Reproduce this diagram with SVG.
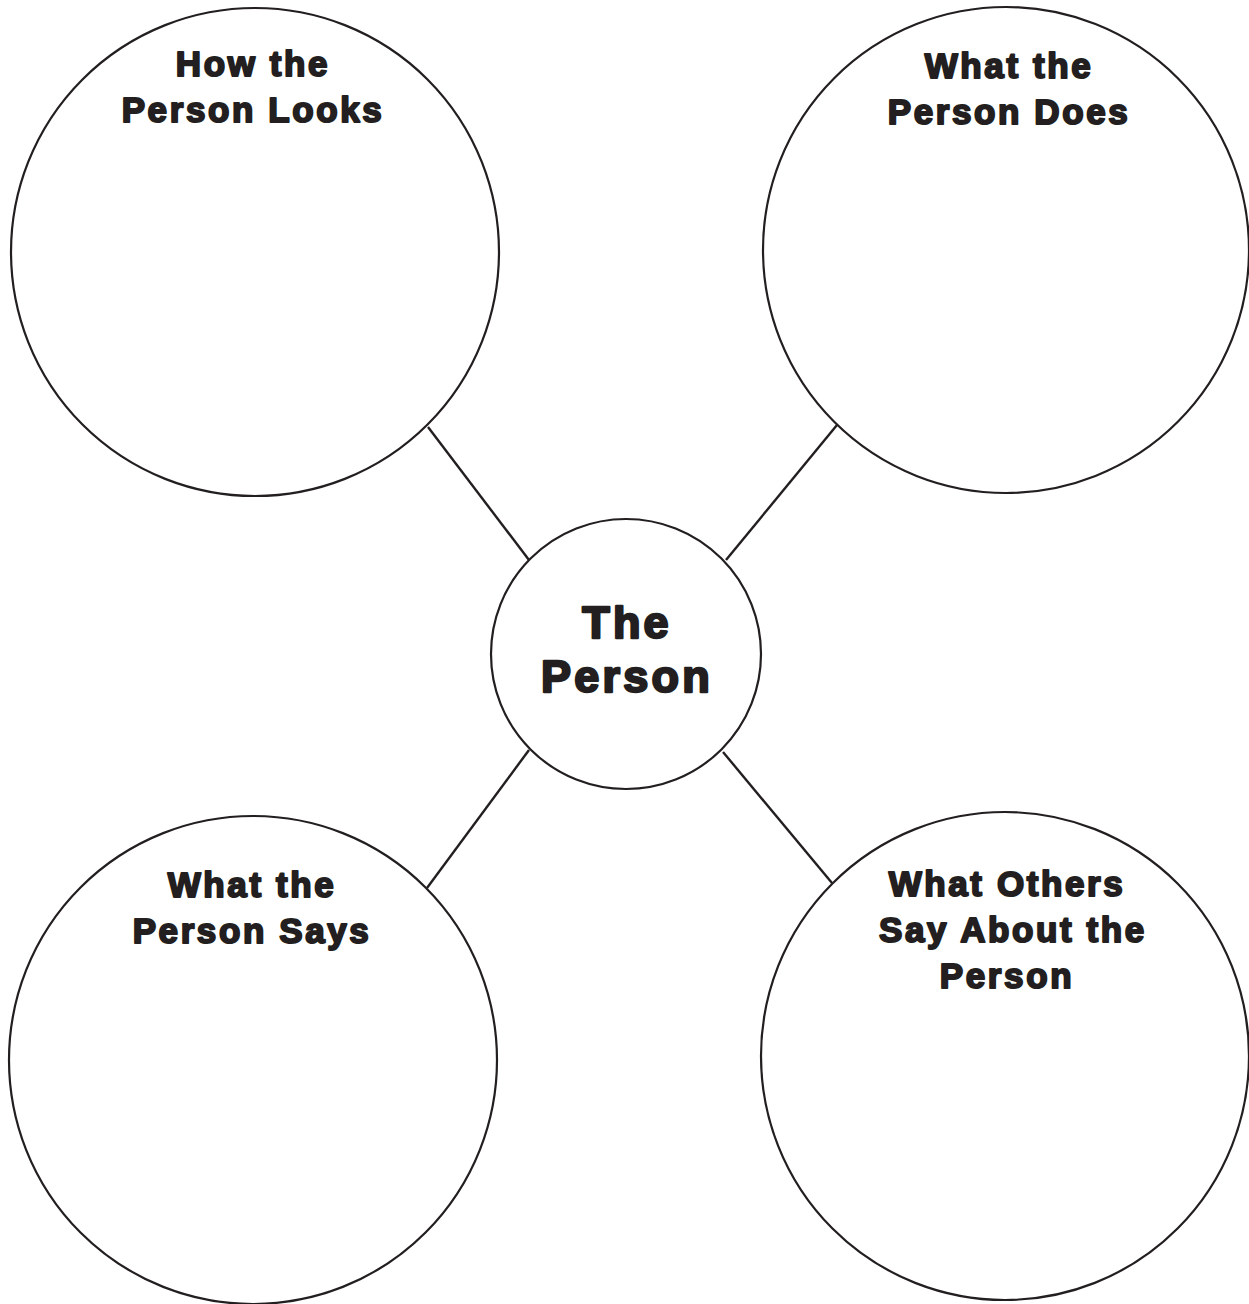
<svg xmlns="http://www.w3.org/2000/svg" width="1249" height="1304" viewBox="0 0 1249 1304">
<style>
.c{fill:#fff;stroke:#231f20;stroke-width:2.2}
.l{stroke:#231f20;stroke-width:2.4;fill:none}
.t{font-family:"Liberation Sans",Arial,sans-serif;font-weight:bold;font-size:35px;fill:#231f20;stroke:#231f20;stroke-width:2;stroke-linejoin:round;text-anchor:middle;letter-spacing:2.6px}
.tc{font-size:45px;letter-spacing:3.2px;stroke-width:2.4}
</style>
<rect width="1249" height="1304" fill="#fff"/>
<g id="connectors">
<line class="l" x1="428" y1="427" x2="529" y2="560"/>
<line class="l" x1="837" y1="425" x2="726" y2="560"/>
<line class="l" x1="529" y1="750" x2="427" y2="888"/>
<line class="l" x1="723" y1="752" x2="832" y2="883"/>
</g>
<g id="looks">
<circle class="c" cx="255" cy="252" r="244"/>
<text class="t" x="253" y="76">How the</text>
<text class="t" x="253" y="122">Person Looks</text>
</g>
<g id="does">
<circle class="c" cx="1006" cy="250" r="243"/>
<text class="t" x="1009" y="78">What the</text>
<text class="t" x="1009" y="124">Person Does</text>
</g>
<g id="person">
<circle class="c" cx="626" cy="654" r="135"/>
<text class="t tc" x="627" y="638">The</text>
<text class="t tc" x="627" y="692">Person</text>
</g>
<g id="says">
<circle class="c" cx="253" cy="1060" r="244"/>
<text class="t" x="252" y="897">What the</text>
<text class="t" x="252" y="943">Person Says</text>
</g>
<g id="others">
<circle class="c" cx="1005" cy="1056" r="244"/>
<text class="t" x="1007" y="896">What Others</text>
<text class="t" x="1013" y="942">Say About the</text>
<text class="t" x="1007" y="988">Person</text>
</g>
</svg>
